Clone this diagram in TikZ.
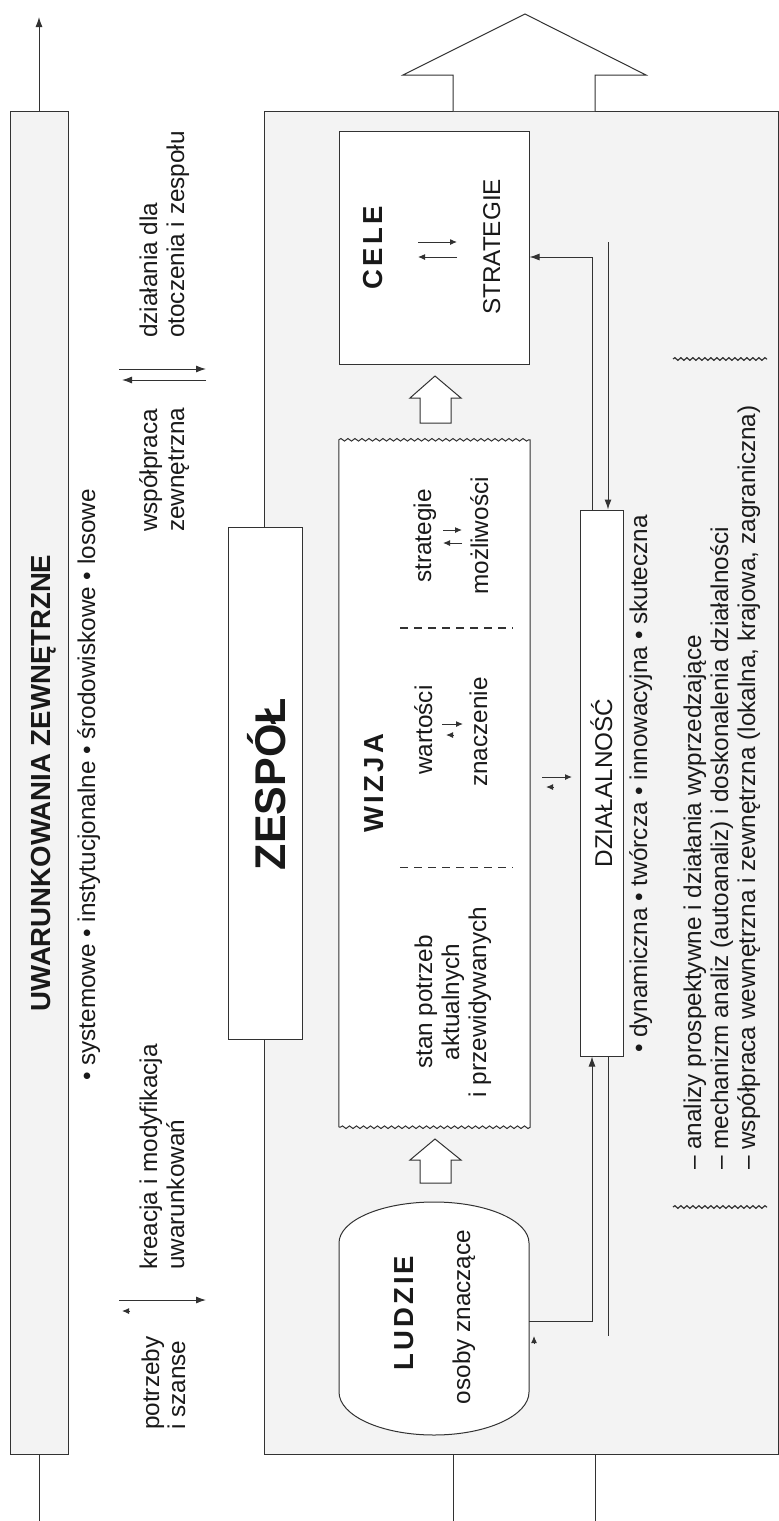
\documentclass[tikz,border=0pt]{standalone}
\usepackage{fontspec}
\setmainfont{Liberation Sans}
\usetikzlibrary{arrows.meta,decorations.pathmorphing,calc}
\definecolor{lnc}{RGB}{50,50,50}
\definecolor{bgc}{RGB}{243,243,243}
\begin{document}
\begin{tikzpicture}[x=1pt,y=-1pt,
 ln/.style={draw=lnc, line width=1pt},
 boxw/.style={ln, fill=white, inner sep=0pt},
 boxg/.style={ln, fill=bgc, inner sep=0pt},
 txt/.style={rotate=90, inner sep=0pt, anchor=base, text=black!90, font=\fontsize{24.3}{27}\selectfont},
 txtl/.style={txt, anchor=base west},
 ttl/.style={rotate=90, inner sep=0pt, anchor=base, text=black!90, font=\fontsize{27.5}{30}\selectfont\bfseries},
 conn/.style={ln, -{Latex[length=10pt,width=7pt]}},
 lonetip/.style={ln, -{Latex[length=7pt,width=6pt]}},
 wavy/.style={decorate, decoration={snake, segment length=6pt, amplitude=1.3pt}},
 hollow/.style={ln, fill=white, line join=miter}
]
\useasboundingbox (0,0) rectangle (779,1521);
\fill[white] (0,0) rectangle (779,1521);

% outer boxes
\node[boxg, minimum width=58, minimum height=1343] (uwar) at (39,782.5) {};
\node[boxg, minimum width=514, minimum height=1343] (outer) at (521,782.5) {};

% left arrow in/out
\coordinate (uwartop) at (39,17);
\coordinate (uwarbot) at (39,1521);
\draw[conn] (uwar.north) -- (uwartop);
\draw[ln] (uwar.south) -- (uwarbot);

% big hollow arrow out of the outer box
\draw[hollow] (453,111) -- (453,75) -- (403,75) -- (525,14) -- (646,75) -- (595,75) -- (595,111);
\draw[ln] (453,1454) -- (453,1521);
\draw[ln] (595,1454) -- (595,1521);

% ZESPÓŁ box
\node[boxw, minimum width=74, minimum height=512] (zespol) at (265,783) {};
\node[rotate=90, inner sep=0pt, anchor=base, text=black!90, font=\fontsize{43}{46}\selectfont\bfseries] (zespolt) at (285,784) {ZESPÓŁ};

% CELE box
\node[boxw, minimum width=190, minimum height=233] (cele) at (434,247.5) {};
\node[ttl] (celet) at (382,248) {C\kern3.2pt E\kern3.2pt L\kern3.2pt E};
\node[txt] (strat) at (500,247) {STRATEGIE};
\coordinate (ca1) at (418,242); \coordinate (ca2) at (457,242);
\coordinate (ca3) at (457,257); \coordinate (ca4) at (418,257);
\draw[lonetip] (ca1) -- (ca2);
\draw[lonetip] (ca3) -- (ca4);

% hollow arrows
\draw[hollow] (420,423) -- (420,398) -- (410,398) -- (435,376) -- (461,398) -- (451,398) -- (451,423) -- cycle;
\draw[hollow] (420,1183) -- (420,1160) -- (410,1160) -- (435,1139) -- (461,1160) -- (451,1160) -- (451,1183) -- cycle;

% WIZJA box
\node[inner sep=0pt, minimum width=191, minimum height=687] (wizja) at (434.5,783.5) {};
\fill[white] (wizja.south west) rectangle (wizja.north east);
\draw[ln] (wizja.south west) -- (wizja.north west)
  decorate[decoration={snake, segment length=7pt, amplitude=1.3pt}] {-- (wizja.north east)}
  -- (wizja.south east)
  decorate[decoration={snake, segment length=7pt, amplitude=1.3pt}] {-- (wizja.south west)};
\node[ttl] (wizjat) at (383,783) {W\kern3.4pt I\kern3.4pt Z\kern3.4pt J\kern3.4pt A};
\draw[draw=lnc, line width=1.4pt, dash pattern=on 8pt off 6pt] (400,628) -- (513,628);
\draw[draw=lnc, line width=0.9pt, dash pattern=on 8pt off 6pt] (400,867) -- (513,867);
\node[txt] (w1) at (431,536) {strategie};
\node[txt] (w2) at (488,536) {możliwości};
\draw[lonetip] (443,530) -- (462,530);
\draw[lonetip] (462,543) -- (443,543);
\node[txt] (w3) at (432,730) {wartości};
\node[txt] (w4) at (487,732) {znaczenie};
\draw[lonetip] (442,724) -- (463,724);
\draw[lonetip] (453,735) -- (446,735);
\node[txt] (w5) at (432,1002) {stan potrzeb};
\node[txt] (w6) at (459,1002) {aktualnych};
\node[txt] (w7) at (486,1002) {i przewidywanych};

% arrows between WIZJA and DZIAŁALNOŚĆ
\draw[lonetip] (542,777) -- (572,777);
\draw[lonetip] (553,787) -- (546,787);

% LUDZIE
\node[inner sep=0pt, minimum width=190, minimum height=233] (ludzie) at (434,1318.5) {};
\draw[ln, fill=white] (339,1243) .. controls (339,1220.4) and (381.6,1202) .. (434,1202)
  .. controls (486.4,1202) and (529,1220.4) .. (529,1243) -- (529,1392)
  .. controls (529,1415.7) and (486.4,1435) .. (434,1435)
  .. controls (381.6,1435) and (339,1415.7) .. (339,1392) -- cycle;
\node[ttl] (ludziet) at (413,1313) {L\kern3pt U\kern3pt D\kern3pt Z\kern3pt I\kern3pt E};
\node[txt] (osoby) at (470,1317) {osoby znaczące};

% DZIAŁALNOŚĆ
\node[boxw, minimum width=43, minimum height=546] (dzial) at (601.5,783) {};
\node[txt] (dzialt) at (612,783) {DZIAŁALNOŚĆ};
\node[txt] (dyn) at (647,784) {• dynamiczna • twórcza • innowacyjna • skuteczna};

% connectors
\draw[conn] ($(ludzie.east)+(0,2.5)$) -| ($(dzial.south)+(-9.5,0)$);
\draw[conn] ($(dzial.north)+(-9.5,0)$) |- ($(cele.east)+(0,9.5)$);
\coordinate (fr1) at (608,242);
\draw[conn] (fr1) -- (fr1 |- dzial.north);
\coordinate (fr2) at (608,1336);
\draw[ln] (fr2 |- dzial.south) -- (fr2);
\draw[lonetip] (534,1344) -- (534,1336);

% lists and markers
\draw[ln, line width=1.2pt, wavy] (673,359) -- (767,359);
\draw[ln, line width=1.2pt, wavy] (673,1207) -- (767,1207);
\node[txtl] (l1) at (701,1170) {– analizy prospektywne i działania wyprzedzające};
\node[txtl] (l2) at (728,1170) {– mechanizm analiz (autoanaliz) i doskonalenia działalności};
\node[txtl] (l3) at (755,1170) {– współpraca wewnętrzna i zewnętrzna (lokalna, krajowa, zagraniczna)};

% left column texts
\node[ttl, font=\fontsize{27.6}{30}\selectfont\bfseries] (uwart) at (50,783) {UWARUNKOWANIA ZEWNĘTRZNE};
\node[txt] (uwarl) at (95,785) {• systemowe • instytucjonalne • środowiskowe • losowe};

\node[txtl] (d1) at (157,338) {działania dla};
\node[txtl] (d2) at (184,338) {otoczenia i zespołu};
\node[txtl] (d3) at (157,532) {współpraca};
\node[txtl] (d4) at (184,532) {zewnętrzna};
\node[txtl] (d5) at (157,1270) {kreacja i modyfikacja};
\node[txtl] (d6) at (184,1270) {uwarunkowań};
\node[txtl] (d7) at (159,1430) {potrzeby};
\node[txtl] (d8) at (185,1430) {i szanse};

\coordinate (a1) at (119,369); \coordinate (a2) at (206,369);
\coordinate (a3) at (206,380); \coordinate (a4) at (122,380);
\draw[conn] (a1) -- (a2);
\draw[conn] (a3) -- (a4);
\coordinate (a5) at (119,1300); \coordinate (a6) at (206,1300);
\draw[conn] (a5) -- (a6);
\draw[lonetip] (130,1311) -- (122,1311);
\end{tikzpicture}
\end{document}
